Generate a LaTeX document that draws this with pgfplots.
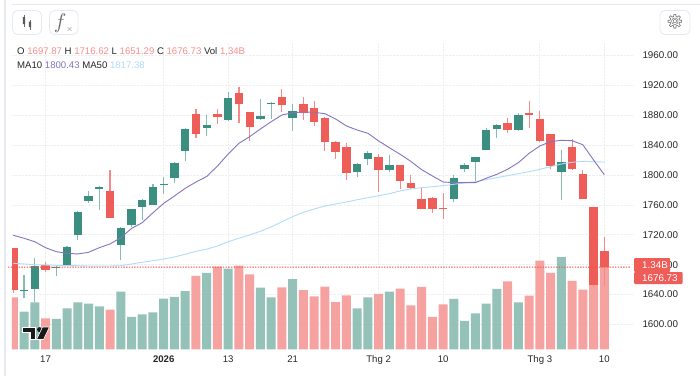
\documentclass[border=0pt]{standalone}
\usepackage{pgfplots}
\usepackage{pgfplotstable}
\usepackage{fontspec}
\pgfplotsset{compat=1.18}
\setmainfont{Liberation Sans}
\newfontfamily\emojifont{Noto Emoji}
\definecolor{cred}{HTML}{EF5D59}
\definecolor{pline}{HTML}{F2504B}
\definecolor{cgreen}{HTML}{3B8F80}
\definecolor{wred}{HTML}{F48A87}
\definecolor{wgreen}{HTML}{86BCB1}
\definecolor{vred}{HTML}{F59B98}
\definecolor{vgreen}{HTML}{8BBCB3}
\definecolor{gridc}{HTML}{EDEFF3}
\definecolor{framec}{HTML}{E6E9F2}
\definecolor{txt}{HTML}{262626}
\definecolor{valred}{HTML}{F68F8C}
\definecolor{mapurple}{HTML}{8574BE}
\definecolor{mablue}{HTML}{B0DCF9}
% one bar-width run of four dots, for the last-price line
\pgfdeclareplotmark{dotrun}{%
  \pgfpathrectangle{\pgfpoint{-5.37pt}{-0.55pt}}{\pgfpoint{1.4pt}{1.1pt}}%
  \pgfpathrectangle{\pgfpoint{-2.69pt}{-0.55pt}}{\pgfpoint{1.4pt}{1.1pt}}%
  \pgfpathrectangle{\pgfpoint{0pt}{-0.55pt}}{\pgfpoint{1.4pt}{1.1pt}}%
  \pgfpathrectangle{\pgfpoint{2.69pt}{-0.55pt}}{\pgfpoint{1.4pt}{1.1pt}}%
  \pgfusepathqfill}
% candles: index, low, body bottom, body top, high
\pgfplotstableread{
i lo bot top hi
0 1642.2 1646.2 1702.8 1702.8
3 1670.7 1673.4 1679.6 1684.1
9 1742.6 1743.0 1779.1 1806.4
17 1850.0 1855.4 1882.1 1888.4
19 1868.8 1877.3 1881.3 1888.4
21 1870.1 1894.7 1910.2 1918.3
22 1846.0 1864.7 1884.0 1884.0
25 1884.4 1893.8 1904.1 1915.2
27 1874.1 1882.7 1895.1 1904.5
28 1866.1 1870.6 1890.2 1898.7
29 1832.6 1843.9 1876.8 1878.1
30 1821.5 1830.5 1843.9 1845.6
31 1793.0 1803.2 1837.2 1842.5
34 1777.8 1806.4 1823.8 1827.8
36 1781.0 1791.7 1813.9 1813.9
37 1782.0 1782.3 1789.0 1800.1
38 1754.6 1755.0 1768.0 1782.3
39 1749.6 1754.6 1769.7 1771.1
40 1741.2 1754.2 1755.9 1776.0
46 1855.9 1860.3 1869.3 1876.4
48 1863.4 1880.4 1883.5 1899.5
49 1844.3 1845.6 1875.4 1885.3
50 1808.1 1812.5 1854.6 1855.0
52 1806.8 1807.7 1837.2 1848.7
53 1767.5 1768.0 1801.0 1806.8
54 1650.2 1652.5 1757.7 1757.9
55 1651.29 1676.73 1697.87 1716.62
}\candlered
\pgfplotstableread{
i lo bot top hi
1 1635.9 1644.9 1646.2 1665.9
2 1630.1 1647.5 1678.7 1689.0
4 1664.5 1675.6 1677.0 1678.3
5 1678.3 1678.7 1703.7 1705.5
6 1712.7 1719.8 1751.0 1751.9
7 1762.6 1764.9 1772.0 1778.3
8 1753.2 1781.8 1783.6 1785.4
10 1686.7 1706.0 1729.6 1730.5
11 1730.9 1732.8 1754.2 1754.6
12 1739.9 1757.7 1766.6 1767.6
13 1759.5 1760.4 1784.0 1788.1
14 1775.1 1787.1 1788.5 1797.0
15 1789.8 1795.7 1816.6 1817.5
16 1819.2 1832.2 1861.7 1862.6
18 1852.7 1862.6 1867.4 1880.0
20 1872.0 1873.7 1903.1 1910.8
23 1873.3 1875.0 1879.1 1901.8
24 1874.6 1894.7 1896.9 1897.8
26 1859.4 1876.8 1885.3 1894.7
32 1797.0 1804.1 1814.8 1815.8
33 1813.9 1821.9 1829.1 1832.2
35 1804.5 1806.4 1813.5 1827.3
41 1763.6 1768.0 1796.5 1800.1
42 1804.5 1808.5 1813.9 1816.2
43 1792.1 1817.9 1823.8 1824.6
44 1833.1 1833.6 1859.9 1863.0
45 1849.2 1862.1 1867.4 1868.4
47 1859.0 1860.7 1880.0 1883.1
51 1766.6 1803.7 1817.9 1833.6
}\candlegreen
% volume in billions
\pgfplotstableread{
i v
0 0.836
3 0.499
9 0.638
17 1.180
19 1.330
21 1.346
22 1.206
25 0.997
27 0.954
28 0.853
29 1.008
30 0.761
31 0.869
34 0.890
36 0.976
37 0.708
38 1.003
39 0.520
40 0.724
46 1.094
48 0.863
49 1.426
50 1.228
52 1.099
53 0.960
54 1.329
55 1.340
}\volred
\pgfplotstableread{
i v
1 0.606
2 0.756
4 0.488
5 0.660
6 0.756
7 0.735
8 0.692
10 0.928
11 0.520
12 0.563
13 0.595
14 0.815
15 0.842
16 0.938
18 1.228
20 1.298
23 0.992
24 0.836
26 1.131
32 0.660
33 0.836
35 0.928
41 0.810
42 0.456
43 0.579
44 0.735
45 0.971
47 0.756
51 1.485
}\volgreen
% moving averages
\pgfplotstableread{
i ma10 ma50
0 1719.4 1681.9
1 1715.4 1681.0
2 1710.8 1680.1
3 1702.8 1679.6
4 1697.5 1679.2
5 1695.3 1678.7
6 1694.4 1678.7
7 1696.6 1678.3
8 1702.8 1678.3
9 1707.8 1678.3
10 1716.2 1678.7
11 1728.5 1681.0
12 1736.3 1683.3
13 1749.6 1685.4
14 1762.2 1687.7
15 1772.0 1690.4
16 1782.3 1694.0
17 1790.7 1698.0
18 1798.1 1700.8
19 1812.1 1705.1
20 1828.2 1710.8
21 1842.5 1715.4
22 1851.4 1719.8
23 1861.7 1724.8
24 1871.4 1730.5
25 1880.4 1737.6
26 1883.5 1744.3
27 1884.4 1750.2
28 1884.0 1754.6
29 1882.1 1758.6
30 1875.0 1761.3
31 1865.7 1764.0
32 1860.3 1767.0
33 1855.9 1769.7
34 1845.6 1772.4
35 1836.6 1775.1
36 1827.8 1778.7
37 1818.2 1781.4
38 1807.2 1783.1
39 1798.8 1784.4
40 1790.7 1785.8
41 1789.8 1787.7
42 1789.8 1789.4
43 1789.8 1791.1
44 1795.7 1793.8
45 1801.0 1796.5
46 1807.7 1799.2
47 1816.6 1801.8
48 1829.1 1804.5
49 1838.9 1807.7
50 1844.7 1811.2
51 1846.5 1814.8
52 1846.0 1817.1
53 1840.6 1818.4
54 1820.2 1817.9
55 1800.43 1817.38
}\mas
% last-price line, one entry per bar width
\pgfplotstableread{
i p
0 1676.73
1 1676.73
2 1676.73
3 1676.73
4 1676.73
5 1676.73
6 1676.73
7 1676.73
8 1676.73
9 1676.73
10 1676.73
11 1676.73
12 1676.73
13 1676.73
14 1676.73
15 1676.73
16 1676.73
17 1676.73
18 1676.73
19 1676.73
20 1676.73
21 1676.73
22 1676.73
23 1676.73
24 1676.73
25 1676.73
26 1676.73
27 1676.73
28 1676.73
29 1676.73
30 1676.73
31 1676.73
32 1676.73
33 1676.73
34 1676.73
35 1676.73
36 1676.73
37 1676.73
38 1676.73
39 1676.73
40 1676.73
41 1676.73
42 1676.73
43 1676.73
44 1676.73
45 1676.73
46 1676.73
47 1676.73
48 1676.73
49 1676.73
50 1676.73
51 1676.73
52 1676.73
53 1676.73
54 1676.73
55 1676.73
56 1676.73
57 1676.73
}\lastprice
\pgfplotsset{
  base/.style={at={(12pt,26pt)},anchor=south west,width=621pt,height=308pt,
    scale only axis,xmin=-0.121,xmax=57.67,clip=true},
  wick/.style={draw=none,mark=none,forget plot,
    error bars/.cd,y dir=minus,y explicit,error mark=none,
    error bar style={line width=1.1pt,color=#1,solid}},
  body/.style={draw=none,mark=none,forget plot,
    error bars/.cd,y dir=minus,y explicit,error mark=none,
    error bar style={line width=8.4pt,color=#1,solid}},
}
\begin{document}
\begin{tikzpicture}[x=1pt,y=1pt]
\path[use as bounding box] (0,0) rectangle (700,376);
\fill[white] (0,0) rectangle (700,376);
% page frame
\draw[framec,line width=1.4pt] (5,0) -- (5,376);
\draw[framec,line width=1pt] (12,371.3) -- (700,371.3);
% ticks and grid on the price scale
\begin{axis}[base,ymin=1565.87,ymax=1978.07,
  axis x line*=bottom, axis y line*=right,
  axis line style={draw=none},
  major tick length=0pt,
  ytick={1600,1640,1680,1720,1760,1800,1840,1880,1920,1960},
  xtick={3,14,20,26,34,40,49,55},
  xticklabels={17,\textbf{2026},13,21,Thg 2,10,Thg 3,10},
  grid=major,
  grid style={gridc,densely dotted,line width=0.8pt},
  yticklabel style={text=txt,font=\fontsize{9.8}{12}\selectfont,anchor=west,xshift=6pt,
    /pgf/number format/.cd,fixed,fixed zerofill,precision=2,1000 sep={},assume math mode=true},
  xticklabel style={text=txt,font=\fontsize{9.6}{12}\selectfont,yshift=-2pt},
]
\end{axis}
% volume
\begin{axis}[base,ymin=-0.0113,ymax=4.944,hide axis,ybar,bar width=9pt,bar shift=0pt]
\addplot[draw=none,fill=vred,fill opacity=0.92] table[x=i,y=v]{\volred};
\addplot[draw=none,fill=vgreen,fill opacity=0.92] table[x=i,y=v]{\volgreen};
\end{axis}
% price
\begin{axis}[base,ymin=1565.87,ymax=1978.07,hide axis]
\addplot[wick=wred] table[x=i,y=hi,y error minus expr=\thisrow{hi}-\thisrow{lo}]{\candlered};
\addplot[wick=wgreen] table[x=i,y=hi,y error minus expr=\thisrow{hi}-\thisrow{lo}]{\candlegreen};
\addplot[body=cred] table[x=i,y=top,y error minus expr=\thisrow{top}-\thisrow{bot}]{\candlered};
\addplot[body=cgreen] table[x=i,y=top,y error minus expr=\thisrow{top}-\thisrow{bot}]{\candlegreen};
\addplot[mablue,line width=0.9pt,mark=none] table[x=i,y=ma50]{\mas};
\addplot[mapurple,line width=0.9pt,mark=none] table[x=i,y=ma10]{\mas};
\addplot[only marks,mark=dotrun,color=pline,mark options={fill=pline,draw=none},forget plot] table[x=i,y=p]{\lastprice};
\end{axis}
% price tags
\fill[cred,rounded corners=1pt] (634,104) rectangle (670,118);
\fill[cred,rounded corners=1pt] (634,92) rectangle (682.7,104);
\node[anchor=base west,inner sep=0,text=white,font=\fontsize{9.8}{12}\selectfont] at (642,107.6) {1.34B};
\node[anchor=base west,inner sep=0,text=white,font=\fontsize{9.8}{12}\selectfont] at (642,94.4) {1676.73};
% header text
\node[anchor=base west,inner sep=0,text=txt,font=\fontsize{9.6}{12}\selectfont] at (17,322) {O \textcolor{valred}{1697.87} H \textcolor{valred}{1716.62} L \textcolor{valred}{1651.29} C \textcolor{valred}{1676.73} Vol \textcolor{valred}{1,34B}};
\node[anchor=base west,inner sep=0,text=txt,font=\fontsize{9.6}{12}\selectfont] at (17,308) {MA10 \textcolor{mapurple}{1800.43} MA50 \textcolor{mablue}{1817.38}};
% toolbar
\draw[framec,line width=0.8pt,rounded corners=5pt] (12.5,341.5) rectangle (41.5,365.5);
\draw[framec,line width=0.8pt,rounded corners=5pt] (49.5,341.5) rectangle (78,365.5);
\draw[framec,line width=0.8pt,rounded corners=5pt] (660,341.5) rectangle (690,365.5);
\draw[gray!85!black,line width=0.6pt] (24,361) -- (24,349.5) (30,356) -- (30,346.5);
\fill[gray!70!black] (22.9,352) rectangle (25.1,359) (28.9,349) rectangle (31.1,354.5);
\node[inner sep=0,text=gray!85!black] at (63.5,353) {\scalebox{2.1}{$f$}\raisebox{-3.5pt}{\footnotesize$\times$}};
\node[inner sep=0,text=black!75,font=\emojifont\fontsize{14}{15}\selectfont] at (675,354) {⚙};
% logo
\fill[black!90,draw=white,line width=0.6pt] (22,49) -- (35.5,49) -- (35.5,36.5) -- (30,36.5) -- (30,44) -- (22,44) -- cycle;
\fill[black!90] (39.6,46.4) circle (2.5);
\fill[black!90,draw=white,line width=0.6pt] (42.5,49) -- (49.5,49) -- (43.5,36.5) -- (36.5,36.5) -- cycle;
\end{tikzpicture}
\end{document}
